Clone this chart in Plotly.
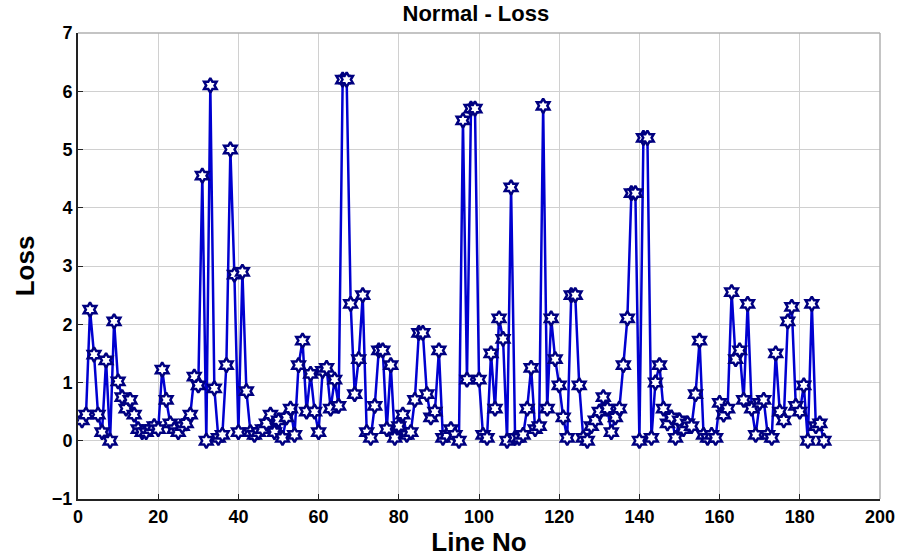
import plotly.graph_objects as go

# Loss value for each line number
line_no = list(range(1, 187))
loss = [
    0.35, 0.45, 2.25, 1.48, 0.45, 0.15, 1.38, 0.00, 2.05, 1.02,
    0.75, 0.55, 0.70, 0.45, 0.20, 0.15, 0.15, 0.20, 0.25, 0.20,
    1.22, 0.70, 0.30, 0.20, 0.15, 0.25, 0.30, 0.45, 1.10, 0.95,
    4.55, 0.00, 6.10, 0.90, 0.05, 0.10, 1.30, 5.00, 2.85, 0.15,
    2.90, 0.85, 0.15, 0.10, 0.15, 0.20, 0.30, 0.45, 0.15, 0.35,
    0.05, 0.40, 0.55, 0.10, 1.30, 1.72, 0.50, 1.15, 0.50, 0.15,
    1.20, 1.25, 0.55, 1.05, 0.60, 6.20, 6.20, 2.35, 0.80, 1.40,
    2.50, 0.15, 0.05, 0.60, 1.55, 1.55, 0.20, 1.30, 0.05, 0.25,
    0.45, 0.10, 0.15, 0.70, 1.85, 1.85, 0.80, 0.40, 0.50, 1.55,
    0.05, 0.10, 0.20, 0.10, 0.00, 5.50, 1.05, 5.70, 5.70, 1.05,
    0.10, 0.05, 1.50, 0.55, 2.10, 1.75, 0.00, 4.35, 0.05, 0.05,
    0.10, 0.55, 1.25, 0.20, 0.25, 5.75, 0.55, 2.10, 1.40, 0.95,
    0.40, 0.05, 2.50, 2.50, 0.95, 0.05, 0.00, 0.25, 0.35, 0.50,
    0.75, 0.55, 0.15, 0.40, 0.55, 1.30, 2.10, 4.25, 4.25, 0.00,
    5.20, 5.20, 0.05, 1.00, 1.30, 0.55, 0.30, 0.40, 0.05, 0.35,
    0.20, 0.30, 0.25, 0.80, 1.72, 0.10, 0.05, 0.10, 0.05, 0.65,
    0.45, 0.55, 2.55, 1.40, 1.55, 0.70, 2.35, 0.55, 0.10, 0.65,
    0.70, 0.10, 0.05, 1.50, 0.50, 0.35, 2.05, 2.30, 0.60, 0.50,
    0.95, 0.00, 2.35, 0.25, 0.30, 0.00,
]

x_ticks = list(range(0, 201, 20))
y_ticks = list(range(-1, 8))

font_family = "Liberation Sans, Arial, sans-serif"

fig = go.Figure()
fig.add_trace(go.Scatter(
    x=line_no,
    y=loss,
    mode="lines+markers",
    line=dict(color="#0000D0", width=2.5),
    marker=dict(symbol="hexagram", size=11, color="white",
                line=dict(color="#000080", width=2.5)),
    showlegend=False,
))

axis_common = dict(
    showgrid=True,
    gridcolor="#d0d0d0",
    gridwidth=1,
    zeroline=False,
    showline=True,
    linecolor="#222222",
    linewidth=2,
    ticks="inside",
    ticklen=5,
    tickcolor="#222222",
    automargin=False,
    tickfont=dict(family=font_family, size=18, color="black", weight="bold"),
)

fig.update_layout(
    width=903,
    height=559,
    margin=dict(l=78, r=23, t=33, b=60),
    paper_bgcolor="white",
    plot_bgcolor="white",
    title=dict(
        text="<b>Normal - Loss</b>",
        x=0.527, xanchor="center",
        y=0.99, yanchor="top",
        font=dict(family=font_family, size=22, color="black"),
    ),
    xaxis=dict(
        range=[0, 200],
        tickvals=x_ticks,
        title=dict(text="<b>Line No</b>", standoff=4,
                   font=dict(family=font_family, size=26, color="black")),
        **axis_common,
    ),
    yaxis=dict(
        range=[-1, 7],
        tickvals=y_ticks,
        title=dict(text="<b>Loss</b>", standoff=10,
                   font=dict(family=font_family, size=26, color="black")),
        **axis_common,
    ),
    shapes=[
        dict(type="line", xref="paper", yref="paper", x0=0, x1=1, y0=1, y1=1,
             line=dict(color="#b0b0b0", width=1.5)),
        dict(type="line", xref="paper", yref="paper", x0=1, x1=1, y0=0, y1=1,
             line=dict(color="#b0b0b0", width=1.5)),
    ],
)

fig.write_html("out.html")
